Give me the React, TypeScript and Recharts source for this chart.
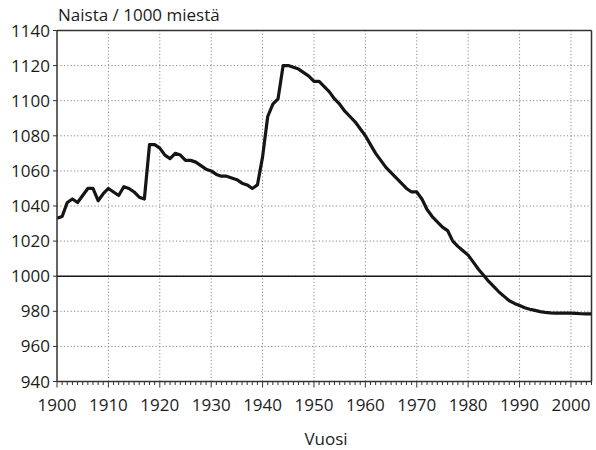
import { LineChart, Line, XAxis, YAxis, CartesianGrid, ReferenceLine } from "recharts";

const YEARS = [
  1900, 1901, 1902, 1903, 1904, 1905, 1906, 1907, 1908, 1909,
  1910, 1911, 1912, 1913, 1914, 1915, 1916, 1917, 1918, 1919,
  1920, 1921, 1922, 1923, 1924, 1925, 1926, 1927, 1928, 1929,
  1930, 1931, 1932, 1933, 1934, 1935, 1936, 1937, 1938, 1939,
  1940, 1941, 1942, 1943, 1944, 1945, 1946, 1947, 1948, 1949,
  1950, 1951, 1952, 1953, 1954, 1955, 1956, 1957, 1958, 1959,
  1960, 1961, 1962, 1963, 1964, 1965, 1966, 1967, 1968, 1969,
  1970, 1971, 1972, 1973, 1974, 1975, 1976, 1977, 1978, 1979,
  1980, 1981, 1982, 1983, 1984, 1985, 1986, 1987, 1988, 1989,
  1990, 1991, 1992, 1993, 1994, 1995, 1996, 1997, 1998, 1999,
  2000, 2001, 2002, 2003, 2004,
];

// women per 1000 men
const RATIO = [
  1033, 1034, 1042, 1044, 1042, 1046, 1050, 1050, 1043, 1047,
  1050, 1048, 1046, 1051, 1050, 1048, 1045, 1044, 1075, 1075,
  1073, 1069, 1067, 1070, 1069, 1066, 1066, 1065, 1063, 1061,
  1060, 1058, 1057, 1057, 1056, 1055, 1053, 1052, 1050, 1052,
  1068, 1091, 1098, 1101, 1120, 1120, 1119, 1118, 1116, 1114,
  1111, 1111, 1108, 1105, 1101, 1098, 1094, 1091, 1088, 1084,
  1080, 1075, 1070, 1066, 1062, 1059, 1056, 1053, 1050, 1048,
  1048, 1044, 1038, 1034, 1031, 1028, 1026, 1020, 1017, 1014.5,
  1012, 1008, 1004, 1000.5, 997, 994, 991, 988.5, 986, 984.5,
  983.3, 982, 981.2, 980.5, 979.8, 979.4, 979.1, 979, 979, 979,
  979, 978.8, 978.6, 978.5, 978.5,
];

const DECADES = [1900, 1910, 1920, 1930, 1940, 1950, 1960, 1970, 1980, 1990, 2000];
const Y_TICKS = [940, 960, 980, 1000, 1020, 1040, 1060, 1080, 1100, 1120, 1140];

const data = YEARS.map((year, i) => ({ year, ratio: RATIO[i] }));

const FONT = "'Open Sans', sans-serif";
const INK = "#1c1c1c";

const YearTick = ({ x, y, payload }: any) => {
  const v = payload.value;
  const major = v % 10 === 0;
  return (
    <g>
      <line x1={x} x2={x} y1={y} y2={y + (major ? 6 : 3.5)} stroke="#333" strokeWidth={1} />
      {major && (
        <text x={x} y={y + 23.5} dy="0.355em" textAnchor="middle" fontSize={17} fontFamily={FONT} fill={INK}>
          {v}
        </text>
      )}
    </g>
  );
};

export default function App() {
  return (
    <div style={{ position: "absolute", left: 0, top: 0, width: 596, height: 450, background: "#fff" }}>
      <div style={{ position: "absolute", left: 58, top: 5.5, fontFamily: FONT, fontSize: 17, lineHeight: "17px", color: INK, whiteSpace: "nowrap" }}>
        Naista / 1000 miestä
      </div>
      <div style={{ position: "absolute", left: 0, width: 652, top: 430, textAlign: "center", fontFamily: FONT, fontSize: 17, lineHeight: "17px", color: INK }}>
        Vuosi
      </div>
      <LineChart width={596} height={450} data={data} margin={{ top: 30.5, right: 4.5, left: 0, bottom: 38.5 }}>
        <CartesianGrid vertical={false} stroke="#888" strokeDasharray="1.2 2.2" />
        {DECADES.slice(1).map((d) => (
          <ReferenceLine key={d} x={d} stroke="#888" strokeDasharray="1.2 2.2" />
        ))}
        <ReferenceLine y={1000} stroke="#1a1a1a" strokeWidth={1.6} />
        <ReferenceLine y={1140} stroke="#333" strokeWidth={1.5} />
        <ReferenceLine x={2004} stroke="#333" strokeWidth={1.5} />
        <XAxis
          dataKey="year"
          type="number"
          domain={[1900, 2004]}
          ticks={YEARS}
          interval={0}
          tickSize={0}
          tickMargin={0}
          tick={<YearTick />}
          height={30}
          axisLine={{ stroke: "#333", strokeWidth: 1.5 }}
          allowDataOverflow
        />
        <YAxis
          type="number"
          domain={[940, 1140]}
          ticks={Y_TICKS}
          interval={0}
          width={57}
          tickSize={4}
          tickMargin={3}
          tick={{ fontSize: 17, fontFamily: FONT, fill: INK }}
          tickLine={{ stroke: "#333" }}
          axisLine={{ stroke: "#333", strokeWidth: 1.5 }}
        />
        <Line
          type="linear"
          dataKey="ratio"
          stroke="#151515"
          strokeWidth={3.2}
          strokeLinejoin="round"
          dot={false}
          isAnimationActive={false}
        />
      </LineChart>
    </div>
  );
}
